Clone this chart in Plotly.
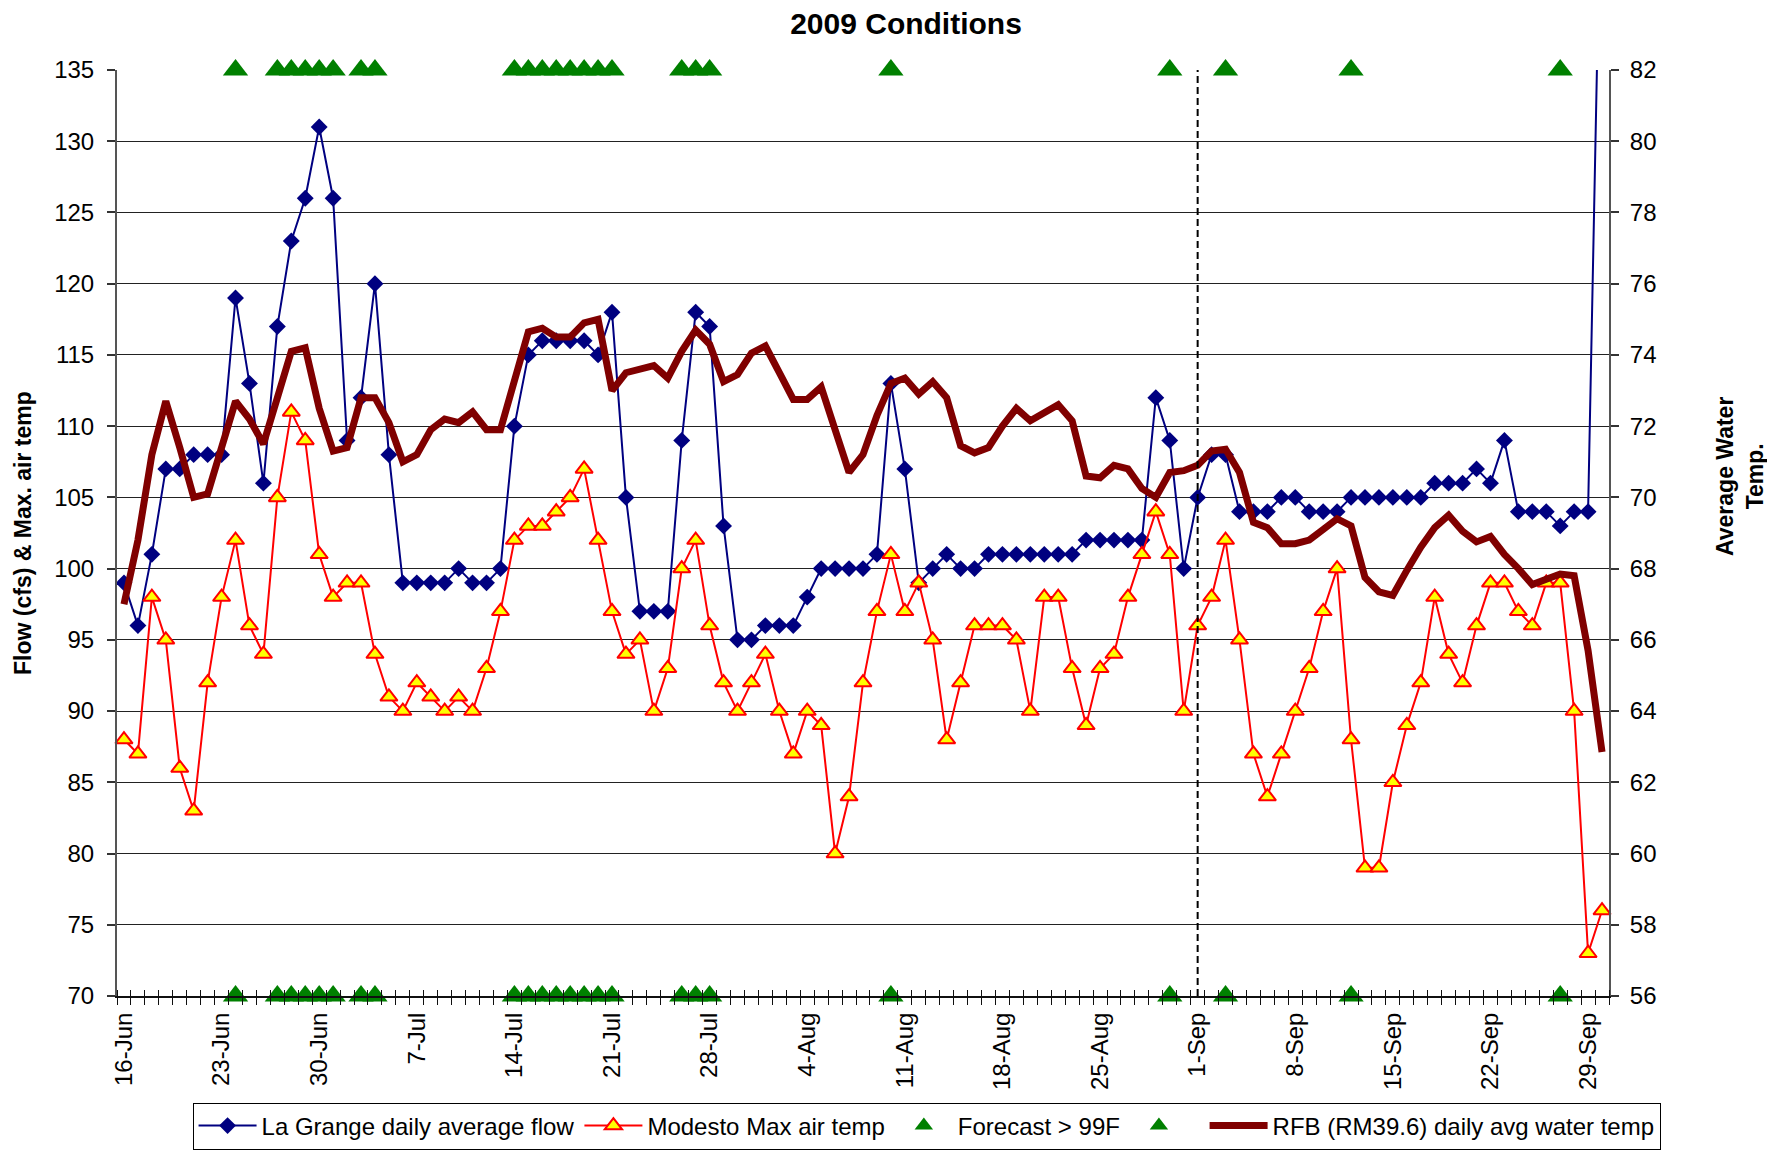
import pandas as pd
import plotly.graph_objects as go

# ---------------- data ----------------
start_date = "2009-06-16"
end_date = "2009-09-30"

flow_cfs = [99, 96, 101, 107, 107, 108, 108, 108, 119, 113, 106, 117, 123, 126, 131, 126, 109, 112, 120, 108,
            99, 99, 99, 99, 100, 99, 99, 100, 110, 115, 116, 116, 116, 116, 115, 118, 105, 97, 97, 97,
            109, 118, 117, 103, 95, 95, 96, 96, 96, 98, 100, 100, 100, 100, 101, 113, 107, 99, 100, 101,
            100, 100, 101, 101, 101, 101, 101, 101, 101, 102, 102, 102, 102, 102, 112, 109, 100, 105, 108, 108,
            104, 104, 104, 105, 105, 104, 104, 104, 105, 105, 105, 105, 105, 105, 106, 106, 106, 107, 106, 109,
            104, 104, 104, 103, 104, 104, 153]

air_temp_max = [88, 87, 98, 95, 86, 83, 92, 98, 102, 96, 94, 105, 111, 109, 101, 98, 99, 99, 94, 91,
                90, 92, 91, 90, 91, 90, 93, 97, 102, 103, 103, 104, 105, 107, 102, 97, 94, 95, 90, 93,
                100, 102, 96, 92, 90, 92, 94, 90, 87, 90, 89, 80, 84, 92, 97, 101, 97, 99, 95, 88,
                92, 96, 96, 96, 95, 90, 98, 98, 93, 89, 93, 94, 98, 101, 104, 101, 90, 96, 98, 102,
                95, 87, 84, 87, 90, 93, 97, 100, 88, 79, 79, 85, 89, 92, 98, 94, 92, 96, 99, 99,
                97, 96, 99, 99, 90, 73, 76]

water_temp = [67.0, 68.8, 71.2, 72.7, 71.4, 70.0, 70.1, 71.4, 72.7, 72.2, 71.5, 72.8, 74.1, 74.2, 72.5, 71.3,
              71.4, 72.8, 72.8, 72.1, 71.0, 71.2, 71.9, 72.2, 72.1, 72.4, 71.9, 71.9, 73.2, 74.65, 74.75, 74.5,
              74.5, 74.9, 75.0, 73.0, 73.5, 73.6, 73.7, 73.35, 74.1, 74.7, 74.3, 73.25, 73.45, 74.05, 74.25, 73.5,
              72.75, 72.75, 73.1, 71.9, 70.7, 71.2, 72.3, 73.2, 73.35, 72.9, 73.25, 72.8, 71.45, 71.25, 71.4, 72.0,
              72.5, 72.15, 72.35, 72.6, 72.15, 70.6, 70.55, 70.9, 70.8, 70.25, 70.0, 70.7, 70.75, 70.9, 71.3, 71.35,
              70.7, 69.3, 69.15, 68.7, 68.7, 68.8, 69.1, 69.4, 69.2, 67.75, 67.35, 67.25, 67.95, 68.6, 69.15, 69.5,
              69.05, 68.75, 68.9, 68.4, 68.0, 67.55, 67.7, 67.85, 67.8, 65.7, 62.85]

forecast_hot_days = ["2009-06-24", "2009-06-27", "2009-06-28", "2009-06-29", "2009-06-30", "2009-07-01",
                     "2009-07-03", "2009-07-04", "2009-07-14", "2009-07-15", "2009-07-16", "2009-07-17",
                     "2009-07-18", "2009-07-19", "2009-07-20", "2009-07-21", "2009-07-26", "2009-07-27",
                     "2009-07-28", "2009-08-10", "2009-08-30", "2009-09-03", "2009-09-12", "2009-09-27"]
forecast_top_value = 135
forecast_bottom_value = 70

tick_labels = ["16-Jun", "23-Jun", "30-Jun", "7-Jul", "14-Jul", "21-Jul", "28-Jul", "4-Aug", "11-Aug",
               "18-Aug", "25-Aug", "1-Sep", "8-Sep", "15-Sep", "22-Sep", "29-Sep"]
divider_date = "2009-09-01"

left_range = [70, 135]
right_range = [56, 82]

# ---------------- derived ----------------
dates = pd.date_range(start_date, end_date, freq="D")
assert len(flow_cfs) == len(dates) == len(air_temp_max) == len(water_temp)
tick_dates = pd.to_datetime([t + "-2009" for t in tick_labels], format="%d-%b-%Y")
half_day = pd.Timedelta(hours=12)
day_bounds = list(dates - half_day) + [dates[-1] + half_day]
fc_dates = pd.to_datetime(forecast_hot_days)
x_range = [dates[0] - half_day, dates[-1] + half_day]

FONT = "Liberation Sans, Arial, sans-serif"
# the page body has an 8px default margin, so the figure is sized to compensate
W, H = 1767, 1143
ML, MR, MT, MB = 109, 166, 62, 155
PW = W - ML - MR
PH = H - MT - MB

fig = go.Figure()
fig.add_trace(go.Scatter(
    x=dates, y=flow_cfs, name="La Grange daily average flow", mode="lines+markers",
    line=dict(color="#000080", width=2),
    marker=dict(symbol="diamond", size=13, color="#000080"),
))
fig.add_trace(go.Scatter(
    x=dates, y=air_temp_max, name="Modesto Max air temp", mode="lines+markers",
    line=dict(color="#FF0000", width=2), cliponaxis=False,
    marker=dict(symbol="triangle-up", size=15, color="#FFFF00", line=dict(color="#FF0000", width=2)),
))
fig.add_trace(go.Scatter(
    x=fc_dates, y=[forecast_top_value] * len(fc_dates), name="Forecast > 99F", mode="markers",
    marker=dict(symbol="triangle-up", size=22, color="#008000"), cliponaxis=False,
))
fig.add_trace(go.Scatter(
    x=fc_dates, y=[forecast_bottom_value] * len(fc_dates), name=" ", mode="markers",
    marker=dict(symbol="triangle-up", size=22, color="#008000"), cliponaxis=False,
))
fig.add_trace(go.Scatter(
    x=dates, y=water_temp, name="RFB (RM39.6) daily avg water temp", mode="lines",
    line=dict(color="#800000", width=7), yaxis="y2",
))
# carrier for the inside half of the daily tick marks
fig.add_trace(go.Scatter(x=[dates[0]], y=[None], xaxis="x2", yaxis="y", showlegend=False,
                         hoverinfo="skip", mode="lines"))

fig.add_shape(type="line", xref="x", yref="paper", x0=divider_date, x1=divider_date, y0=0, y1=1,
              line=dict(color="black", width=2, dash="7px,4px"))

fig.update_layout(
    width=W, height=H,
    margin=dict(l=ML, r=MR, t=MT, b=MB, autoexpand=False),
    paper_bgcolor="white", plot_bgcolor="white",
    font=dict(family=FONT, color="black", size=24),
    title=dict(text="<b>2009 Conditions</b>", font=dict(size=30, family=FONT),
               x=898 / W, xanchor="center", xref="container",
               y=1 - 5 / H, yanchor="top", yref="container", pad=dict(t=0, b=0)),
    showlegend=True,
    legend=dict(orientation="h", x=0.5426, xanchor="center", y=(988 - 1118) / PH, yanchor="middle",
                bordercolor="black", borderwidth=1, bgcolor="white",
                font=dict(size=24, family=FONT), itemwidth=58),
    xaxis=dict(
        type="date", range=x_range,
        tickmode="array", tickvals=tick_dates, ticktext=tick_labels, tickangle=-90,
        ticks="", showgrid=False, zeroline=False,
        showline=True, linecolor="#101010", linewidth=2,
        tickfont=dict(size=24, family=FONT), ticklabelstandoff=5,
        minor=dict(tickmode="array", tickvals=day_bounds, ticks="outside", ticklen=7,
                   tickcolor="#101010", tickwidth=1, showgrid=False),
    ),
    xaxis2=dict(
        type="date", range=x_range, overlaying="x", anchor="y", side="bottom",
        tickmode="array", tickvals=[], showticklabels=False, ticks="",
        showgrid=False, zeroline=False, showline=False,
        minor=dict(tickmode="array", tickvals=day_bounds, ticks="inside", ticklen=6,
                   tickcolor="#101010", tickwidth=1, showgrid=False),
    ),
    yaxis=dict(
        range=left_range, tick0=70, dtick=5, showgrid=True, gridcolor="#222222", gridwidth=1,
        zeroline=False, showline=True, linecolor="#555555", linewidth=2,
        ticks="outside", ticklen=8, tickcolor="#333333", tickwidth=1.5,
        tickfont=dict(size=24, family=FONT), ticklabelstandoff=8,
    ),
    yaxis2=dict(
        range=right_range, tick0=56, dtick=2, overlaying="y", side="right", showgrid=False,
        zeroline=False, showline=True, linecolor="#555555", linewidth=2,
        ticks="outside", ticklen=8, tickcolor="#333333", tickwidth=1.5,
        tickfont=dict(size=24, family=FONT), ticklabelstandoff=6,
    ),
    annotations=[
        dict(text="<b>Flow (cfs) & Max. air temp</b>", textangle=-90, xref="paper", yref="paper",
             x=(15 - ML) / PW, y=0.5, xanchor="center", yanchor="middle", showarrow=False,
             font=dict(size=23, family=FONT)),
        dict(text="<b>Average Water<br>Temp.</b>", textangle=-90, xref="paper", yref="paper",
             x=(1732 - ML) / PW, y=(988 - 469) / PH, xanchor="center", yanchor="middle",
             showarrow=False, font=dict(size=23, family=FONT)),
    ],
)

fig.write_html("out.html")
